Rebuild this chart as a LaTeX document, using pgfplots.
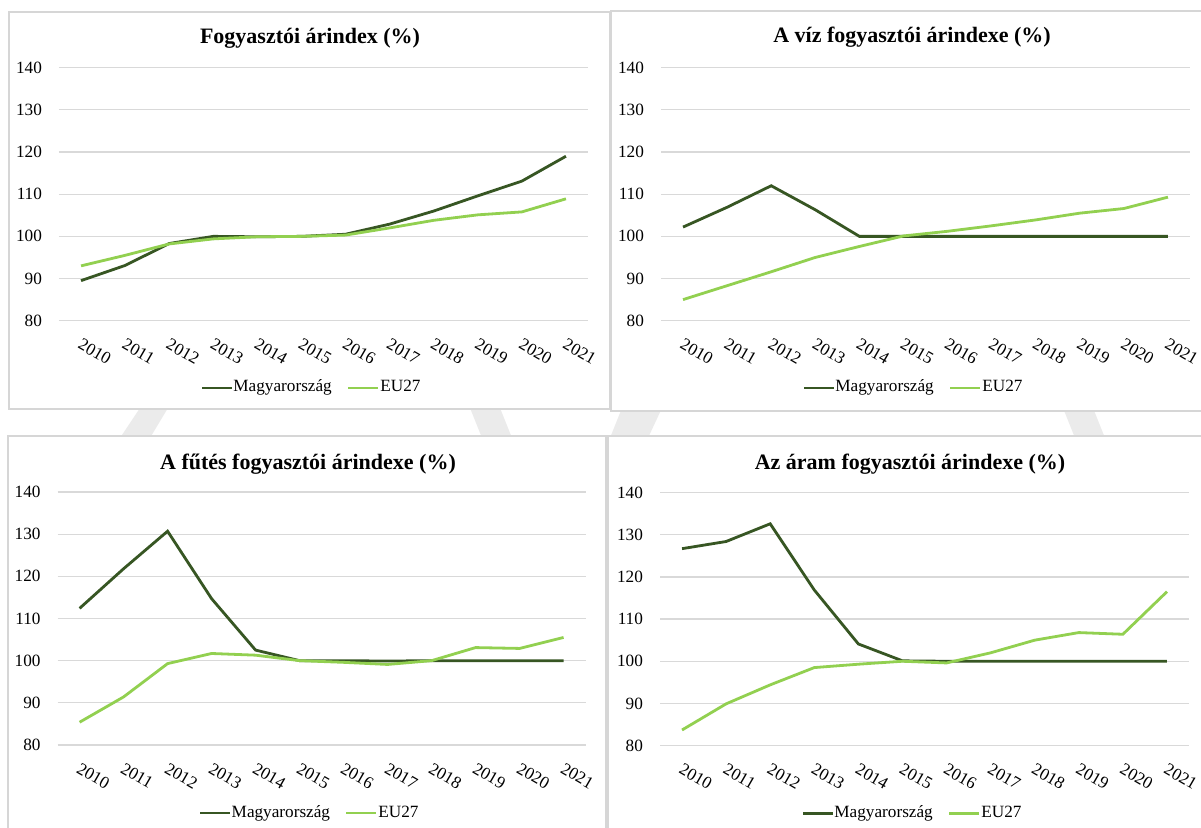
\documentclass[border=0pt]{standalone}
\usepackage{fontspec}
\setmainfont{Liberation Serif}
\usepackage{pgfplots}
\pgfplotsset{compat=1.18}
\definecolor{hu}{RGB}{55,86,35}
\definecolor{eu}{RGB}{146,208,80}
\definecolor{gridc}{RGB}{217,217,217}
\definecolor{boxc}{RGB}{214,214,214}
\definecolor{wm}{RGB}{235,235,235}
\newcommand{\tickfont}{\fontsize{8.6}{10}\selectfont}
\newcommand{\titlefont}{\fontsize{11}{13}\selectfont\bfseries}
\tikzset{huline/.style={color=hu, line width=1.4pt}, euline/.style={color=eu, line width=1.4pt}}
% legend samples as filled bars below the plot area (#1 = bottom y, #2 = top y, #3 = text y; data units)
\newcommand{\panellegend}[3]{%
  \fill[hu] (axis cs:2.738,#1) rectangle (axis cs:3.418,#2);
  \fill[eu] (axis cs:6.056,#1) rectangle (axis cs:6.736,#2);
  \node[anchor=west, inner sep=0pt, font=\tickfont] at (axis cs:3.448,#3) {\strut Magyarország};
  \node[anchor=west, inner sep=0pt, font=\tickfont] at (axis cs:6.782,#3) {\strut EU27};
}
\pgfplotsset{
  panel/.style={
    scale only axis, width=264.5pt, height=126.5pt,
    xmin=-0.5, xmax=11.5, ymin=80, ymax=140,
    ytick={80,90,100,110,120,130,140},
    xtick={0,1,2,3,4,5,6,7,8,9,10,11},
    xticklabels={2010,2011,2012,2013,2014,2015,2016,2017,2018,2019,2020,2021},
    axis line style={draw=none},
    major tick length=0pt,
    ymajorgrids, grid style={gridc, line width=0.6pt},
    /pgf/number format/assume math mode=true,
    yticklabel style={font=\tickfont, xshift=-5pt},
    xticklabel style={font=\tickfont, rotate=-30, anchor=north west, xshift=1.5pt, yshift=-3.5pt},
    clip=false,
  }
}
\begin{document}
\begin{tikzpicture}
\path[use as bounding box] (0,0) rectangle (600.5pt,414pt);
\begin{scope}[x=0.5pt, y=-0.5pt, shift={(0pt,414pt)}]
  % watermark pieces in gaps
  \fill[wm] (140,408) -- (168,408) -- (150,438) -- (120,438) -- cycle;
  \fill[wm] (470,408) -- (500,408) -- (512,438) -- (482,438) -- cycle;
  \fill[wm] (622,408) -- (662,408) -- (648,438) -- (610,438) -- cycle;
  \fill[wm] (1063,408) -- (1093,408) -- (1105,438) -- (1075,438) -- cycle;
  % panel boxes
  \draw[boxc, fill=white, line width=1pt] (8.5,12) rectangle (610,409.5);
  \draw[boxc, fill=white, line width=1pt] (611,11) rectangle (1215,411);
  \draw[boxc, fill=white, line width=1pt] (8,436) rectangle (606,840);
  \draw[boxc, fill=white, line width=1pt] (608,436) rectangle (1215,840);
  % titles
  \node[font=\titlefont] at (310,38) {Fogyasztói árindex (\%)};
  \node[font=\titlefont] at (912,37) {A víz fogyasztói árindexe (\%)};
  \node[font=\titlefont] at (308,464) {A fűtés fogyasztói árindexe (\%)};
  \node[font=\titlefont] at (910,464) {Az áram fogyasztói árindexe (\%)};
\end{scope}

% Top-left
\begin{axis}[panel, at={(29.5pt,253.65pt)}, anchor=south west]
\addplot[huline, mark=none] coordinates {(0,89.5) (1,93.1) (2,98.3) (3,100.0) (4,99.9) (5,100.0) (6,100.5) (7,102.9) (8,106.0) (9,109.6) (10,113.1) (11,119.0)};
\addplot[euline, mark=none] coordinates {(0,93.0) (1,95.5) (2,98.2) (3,99.4) (4,99.9) (5,100.0) (6,100.3) (7,102.0) (8,103.8) (9,105.1) (10,105.8) (11,108.9)};
\panellegend{63.70}{64.38}{64.04}
\end{axis}

% Top-right
\begin{axis}[panel, at={(330.5pt,253.65pt)}, anchor=south west]
\addplot[huline, mark=none] coordinates {(0,102.2) (1,106.9) (2,112.0) (3,106.3) (4,100.0) (5,100.0) (6,100.0) (7,100.0) (8,100.0) (9,100.0) (10,100.0) (11,100.0)};
\addplot[euline, mark=none] coordinates {(0,85.0) (1,88.3) (2,91.6) (3,95.0) (4,97.6) (5,100.1) (6,101.2) (7,102.5) (8,103.9) (9,105.5) (10,106.6) (11,109.3)};
\panellegend{63.70}{64.38}{64.04}
\end{axis}

% Bottom-left
\begin{axis}[panel, width=264pt, at={(28.8pt,41.5pt)}, anchor=south west]
\addplot[huline, mark=none] coordinates {(0,112.4) (1,121.8) (2,130.7) (3,114.7) (4,102.5) (5,100.0) (6,100.0) (7,99.9) (8,100.0) (9,100.0) (10,100.0) (11,100.0)};
\addplot[euline, mark=none] coordinates {(0,85.4) (1,91.4) (2,99.3) (3,101.7) (4,101.3) (5,100.0) (6,99.6) (7,99.1) (8,100.0) (9,103.1) (10,102.9) (11,105.5)};
\panellegend{63.52}{64.20}{63.86}
\end{axis}

% Bottom-right
\begin{axis}[panel, at={(330pt,41.2pt)}, anchor=south west]
\addplot[huline, mark=none] coordinates {(0,126.7) (1,128.4) (2,132.6) (3,116.9) (4,104.1) (5,100.1) (6,100.0) (7,100.0) (8,100.0) (9,100.0) (10,100.0) (11,100.0)};
\addplot[euline, mark=none] coordinates {(0,83.7) (1,89.9) (2,94.4) (3,98.5) (4,99.3) (5,100.0) (6,99.6) (7,102.0) (8,105.0) (9,106.8) (10,106.4) (11,116.5)};
\panellegend{63.52}{64.20}{63.86}
\end{axis}
\end{tikzpicture}
\end{document}
